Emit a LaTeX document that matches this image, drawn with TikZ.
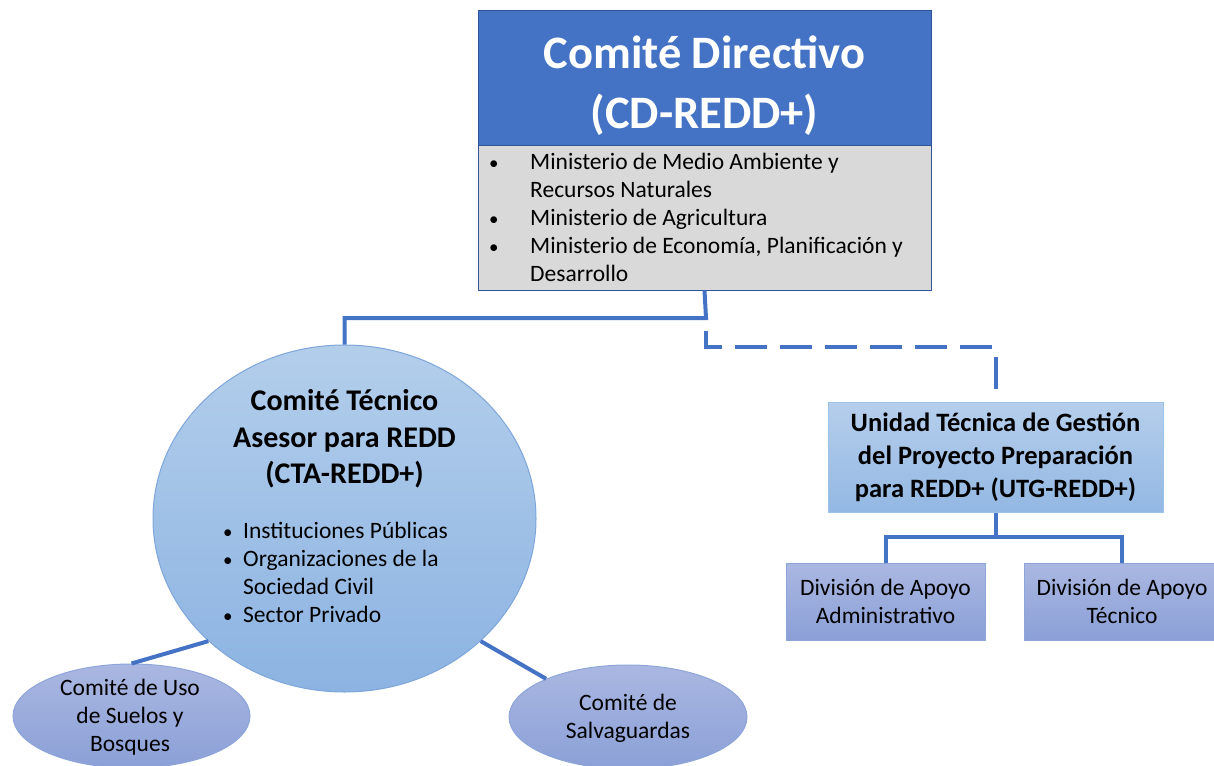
\documentclass[tikz,border=0pt]{standalone}
\usepackage{fontspec}
\setmainfont{Carlito}
\usetikzlibrary{shapes.geometric}
\definecolor{cdblue}{HTML}{4472C4}
\definecolor{cdedge}{HTML}{2F5597}
\definecolor{greyfill}{HTML}{D9D9D9}
\definecolor{ctatop}{HTML}{B3CEEB}
\definecolor{ctabot}{HTML}{8CB3E2}
\definecolor{ctaedge}{HTML}{7EA6DA}
\definecolor{utgtop}{HTML}{B6CEEC}
\definecolor{utgbot}{HTML}{93B8E3}
\definecolor{utgedge}{HTML}{9DC3E6}
\definecolor{lavtop}{HTML}{AAB7E1}
\definecolor{lavbot}{HTML}{8BA0D7}
\definecolor{lavedge}{HTML}{8EA5DA}
\newcommand{\smallbullet}{{\fontsize{19}{28}\selectfont•}}
\newcommand{\bl}{\makebox[42pt][l]{\hspace*{1pt}\smallbullet}}
\newcommand{\ind}{\hspace*{42pt}}
\newcommand{\sbl}{\makebox[21pt][l]{\hspace*{1pt}\smallbullet}}
\newcommand{\sind}{\hspace*{21pt}}
\begin{document}
\begin{tikzpicture}[x=1pt,y=-1pt,
  conn/.style={draw=cdblue, line width=4pt},
  dashconn/.style={conn, dash pattern=on 32pt off 13pt, dash phase=32pt},
  bodyfont/.style={font=\fontsize{23.5}{28}\selectfont},
  lavbox/.style={rectangle, draw=lavedge, line width=1pt, top color=lavtop, bottom color=lavbot, inner sep=0pt, align=center, bodyfont},
  lavell/.style={ellipse, draw=lavedge, line width=1pt, top color=lavtop, bottom color=lavbot, inner sep=0pt},
  txt/.style={inner sep=0pt, align=center, bodyfont}
]
\useasboundingbox (0,0) rectangle (1214,765);

% top committee
\node[rectangle, draw=cdedge, line width=1pt, fill=cdblue, minimum width=453pt, minimum height=134pt, inner sep=0pt] (cdTop) at (704.5,78) {};
\node[inner sep=0pt, align=center, text=white, font=\fontsize{46.5}{60}\selectfont\bfseries] (cdTitle) at (704.5,86) {Comité Directivo\\(CD-REDD+)};
\node[rectangle, draw=cdedge, line width=1pt, fill=greyfill, minimum width=453pt, minimum height=145pt, inner sep=0pt] (cdList) at (704.5,217.5) {};
\node[anchor=west, inner sep=0pt, align=left, bodyfont] (cdText) at (488,217)
  {\bl Ministerio de Medio Ambiente y\\\ind Recursos Naturales\\\bl Ministerio de Agricultura\\\bl Ministerio de Economía, Planificación y\\\ind Desarrollo};

% technical committee
\node[ellipse, draw=ctaedge, line width=1pt, top color=ctatop, bottom color=ctabot, minimum width=383pt, minimum height=347pt, inner sep=0pt] (cta) at (344.5,518.5) {};
\node[inner sep=0pt, align=center, font=\fontsize{30}{36.5}\selectfont\bfseries] (ctaTitle) at (344.5,439) {Comité Técnico\\Asesor para REDD\\(CTA-REDD+)};
\node[anchor=west, inner sep=0pt, align=left, bodyfont] (ctaText) at (222,572)
  {\sbl Instituciones Públicas\\\sbl Organizaciones de la\\\sind Sociedad Civil\\\sbl Sector Privado};

% sub committees
\node[lavell, minimum width=237pt, minimum height=104pt] (usoEll) at (131.5,716) {};
\node[txt] (usoText) at (130,717) {Comité de Uso\\de Suelos y\\Bosques};
\node[lavell, minimum width=238pt, minimum height=104pt] (salEll) at (628,717) {};
\node[txt] (salText) at (628,718) {Comité de\\Salvaguardas};

% UTG
\node[rectangle, draw=utgedge, line width=1pt, top color=utgtop, bottom color=utgbot, minimum width=335pt, minimum height=110pt, inner sep=0pt, align=center, font=\fontsize{26.5}{33}\selectfont\bfseries] (utg) at (995.5,457)
  {Unidad Técnica de Gestión\\del Proyecto Preparación\\para REDD+ (UTG-REDD+)};
\node[lavbox, minimum width=199pt, minimum height=77pt] (divA) at (885.5,601.5) {División de Apoyo\\Administrativo};
\node[lavbox, minimum width=196pt, minimum height=77pt] (divT) at (1122,601.5) {División de Apoyo\\Técnico};

% connectors
\coordinate (j1) at (706,318);
\coordinate (j2) at (706,347);
\coordinate (j3) at (995.5,537);
\draw[conn] (cdList.south) -- (j1) -| (cta.north);
\draw[dashconn] (j1) -- (j2) -| (utg.north);
\draw[conn] (utg.south) -- (j3);
\draw[conn] (divA.north) |- (j3) -| (divT.north);
\draw[conn] (cta.222) -- (usoEll.90);
\draw[conn] (cta.318) -- (salEll.155);
\end{tikzpicture}
\end{document}
